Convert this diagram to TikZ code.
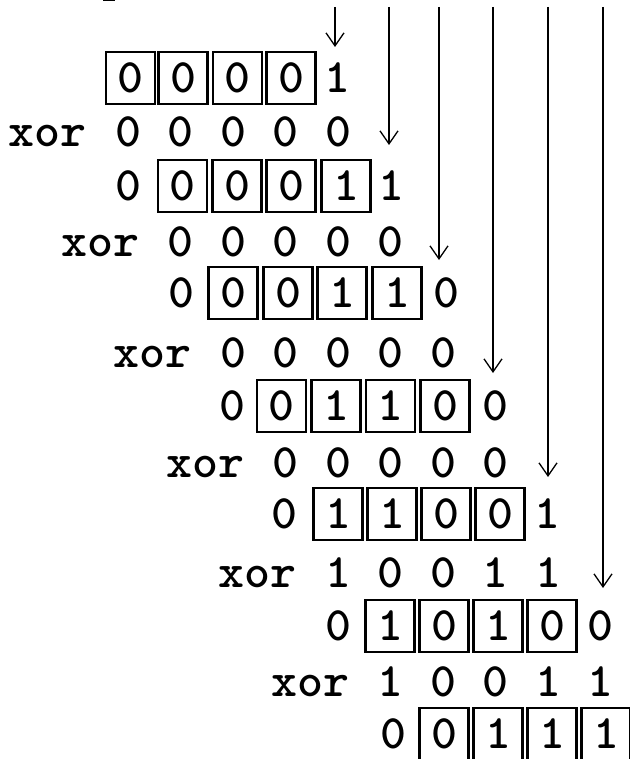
\documentclass[tikz,border=0pt]{standalone}
\usetikzlibrary{arrows.meta}
\newcommand\widebit[1]{\scalebox{1.03}[1]{#1}}
\begin{document}
\begin{tikzpicture}[x=1pt,y=-1pt,
  txt/.style={inner sep=0pt, text height=29.3pt, text depth=0pt,
    font=\ttfamily\bfseries\fontsize{48}{48}\selectfont},
  bit/.style={txt, draw, line width=2.5pt, minimum width=49pt, minimum height=52pt},
  feed/.style={line width=1.3pt, -{Straight Barb[length=13pt,width=18pt]}}]
\useasboundingbox (0,0) rectangle (629,759);

% stub of a glyph cut by the top edge
\fill (103,0) rectangle (115,1.5);

% register contents: four boxed bits per row
\foreach \r/\y/\xa/\xb/\xc/\xd/\va/\vb/\vc/\vd in {
  1/78/130.5/183/237.5/291/0/0/0/0,
  2/186/182.5/237/291/346/0/0/0/1,
  3/293/233/288/342/397/0/0/1/1,
  4/406/281.5/336/390.5/445/0/1/1/0,
  5/514/338/392/446/500/1/1/0/0,
  6/626/390/444/498/552/1/0/1/0,
  7/734/444/498/552/606/0/1/1/1}{
  \node[bit] (r\r-1) at (\xa,\y) {\widebit{\va}};
  \node[bit] (r\r-2) at (\xb,\y) {\widebit{\vb}};
  \node[bit] (r\r-3) at (\xc,\y) {\widebit{\vc}};
  \node[bit] (r\r-4) at (\xd,\y) {\widebit{\vd}};
}

% bit shifted out on the left
\foreach \r/\y/\x in {2/186/128, 3/293/181, 4/406/232, 5/514/284, 6/626/338, 7/734/393}
  \node[txt] (lead\r) at (\x,\y) {\widebit{0}};

% incoming message bit on the right
\foreach \r/\y/\x/\v in {1/78/337/1, 2/186/391/1, 3/293/446/0, 4/406/495/0, 5/514/547/1, 6/626/600/0}
  \node[txt] (tail\r) at (\x,\y) {\widebit{\v}};

% xor lines
\foreach \k/\y/\x/\va/\vb/\vc/\vd/\ve in {
  1/132/128/0/0/0/0/0,
  2/242/180.5/0/0/0/0/0,
  3/353/233/0/0/0/0/0,
  4/463/285.5/0/0/0/0/0,
  5/573/338/1/0/0/1/1,
  6/682/390.5/1/0/0/1/1}{
  \node[txt, anchor=east] (xor\k) at ({\x-41},\y) {\widebit{xor}};
  \node[txt] (p\k-1) at (\x,\y) {\widebit{\va}};
  \node[txt] (p\k-2) at ({\x+52.5},\y) {\widebit{\vb}};
  \node[txt] (p\k-3) at ({\x+105},\y) {\widebit{\vc}};
  \node[txt] (p\k-4) at ({\x+157.5},\y) {\widebit{\vd}};
  \node[txt] (p\k-5) at ({\x+210},\y) {\widebit{\ve}};
}

% message bits fed in from above
\foreach \k/\x/\t in {1/335/47, 2/389/145, 3/439/260, 4/493/373, 5/548/477, 6/603/588}{
  \coordinate (top\k) at (\x,7);
  \coordinate (tip\k) at (\x,\t);
  \draw[feed] (top\k) -- (tip\k);
}
\end{tikzpicture}
\end{document}
